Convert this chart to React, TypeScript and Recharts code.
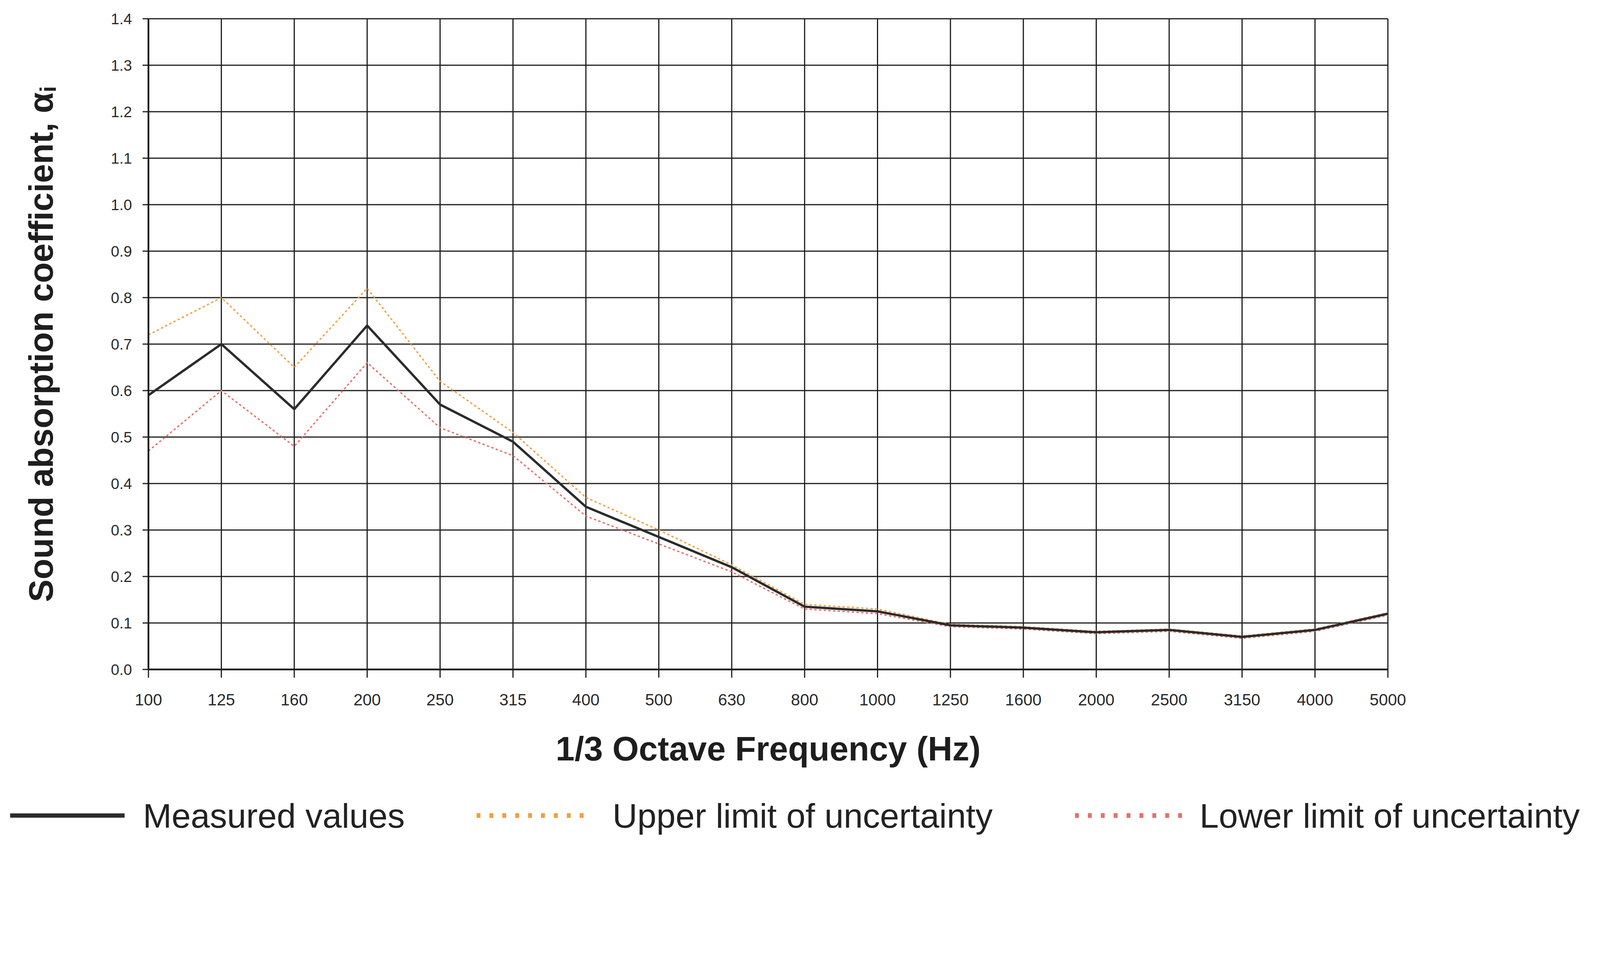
import { LineChart, Line, CartesianGrid, XAxis, YAxis, Legend } from "recharts";

const frequencies = [
  "100", "125", "160", "200", "250", "315", "400", "500", "630",
  "800", "1000", "1250", "1600", "2000", "2500", "3150", "4000", "5000",
];

const measured = [
  0.59, 0.7, 0.56, 0.74, 0.57, 0.49, 0.35, 0.285, 0.22,
  0.135, 0.125, 0.095, 0.09, 0.08, 0.085, 0.07, 0.085, 0.12,
];

const upperLimit = [
  0.72, 0.8, 0.65, 0.82, 0.62, 0.51, 0.37, 0.3, 0.225,
  0.14, 0.13, 0.097, 0.092, 0.082, 0.087, 0.072, 0.087, 0.122,
];

const lowerLimit = [
  0.47, 0.6, 0.48, 0.66, 0.52, 0.46, 0.33, 0.27, 0.21,
  0.13, 0.12, 0.092, 0.087, 0.077, 0.082, 0.067, 0.082, 0.117,
];

const yTicks = [0, 0.1, 0.2, 0.3, 0.4, 0.5, 0.6, 0.7, 0.8, 0.9, 1.0, 1.1, 1.2, 1.3, 1.4];

const data = frequencies.map((freq, i) => ({
  freq,
  measured: measured[i],
  upper: upperLimit[i],
  lower: lowerLimit[i],
}));

const FONT = "'Liberation Sans', Arial, Helvetica, sans-serif";
const W = 4080;
const H = 2160;

const renderXTitle = (props: any) => {
  const vb = props.viewBox || { x: 372, width: 3173 };
  return (
    <text
      x={vb.x + vb.width / 2}
      y={1908}
      textAnchor="middle"
      dominantBaseline="central"
      fontFamily={FONT}
      fontWeight="bold"
      fontSize={87}
      fill="#1e1e1e"
    >
      1/3 Octave Frequency (Hz)
    </text>
  );
};

const renderYTitle = () => {
  const x = 96;
  const y = 873;
  return (
    <text
      x={x}
      y={y}
      transform={`rotate(-90, ${x}, ${y})`}
      textAnchor="middle"
      dominantBaseline="central"
      fontFamily={FONT}
      fontWeight="bold"
      fontSize={87}
      fill="#1e1e1e"
    >
      Sound absorption coefficient, α
      <tspan fontSize={57} dy={19}>i</tspan>
    </text>
  );
};

// legend drawn by hand so it can spread over the full width like the original
const renderLegend = () => (
  <svg width={W} height={130} style={{ display: "block" }}>
    <line x1={18} x2={311} y1={65} y2={65} stroke="#2b2b2b" strokeWidth={11} />
    <text x={358} y={65} dominantBaseline="central" fontFamily={FONT} fontSize={88} fill="#222">
      Measured values
    </text>
    <line x1={1212} x2={1508} y1={65} y2={65} stroke="#f0a040" strokeWidth={12} strokeDasharray="10 23" />
    <text x={1560} y={65} dominantBaseline="central" fontFamily={FONT} fontSize={88} fill="#222">
      Upper limit of uncertainty
    </text>
    <line x1={2744} x2={3038} y1={65} y2={65} stroke="#e8706a" strokeWidth={12} strokeDasharray="10 23" />
    <text x={3063} y={65} dominantBaseline="central" fontFamily={FONT} fontSize={88} fill="#222">
      Lower limit of uncertainty
    </text>
  </svg>
);

export default function App() {
  return (
    <div style={{ width: W, height: H, background: "#ffffff" }}>
      <LineChart
        width={W}
        height={H}
        data={data}
        margin={{ top: 40, right: 535, bottom: 0, left: 0 }}
      >
        <CartesianGrid stroke="#1c1c1c" strokeWidth={3} />
        <XAxis
          dataKey="freq"
          interval={0}
          height={454}
          tickSize={21}
          tickMargin={41}
          axisLine={{ stroke: "#1c1c1c", strokeWidth: 4.5 }}
          tickLine={{ stroke: "#1c1c1c", strokeWidth: 3 }}
          tick={{ fontSize: 42, fontFamily: FONT, fill: "#2a2a2a" }}
          label={renderXTitle}
        />
        <YAxis
          domain={[0, 1.4]}
          ticks={yTicks}
          width={372}
          tickSize={15}
          tickMargin={27}
          tickFormatter={(v: number) => v.toFixed(1)}
          axisLine={{ stroke: "#1c1c1c", strokeWidth: 4.5 }}
          tickLine={{ stroke: "#1c1c1c", strokeWidth: 3 }}
          tick={{ fontSize: 39, fontFamily: FONT, fill: "#2a2a2a" }}
          label={renderYTitle}
        />
        <Legend
          layout="vertical"
          align="center"
          verticalAlign="middle"
          content={renderLegend}
          wrapperStyle={{ left: 0, top: 2015, width: W, height: 130 }}
        />
        <Line
          type="linear"
          dataKey="upper"
          name="Upper limit of uncertainty"
          stroke="#f0a040"
          strokeWidth={3.5}
          strokeDasharray="6 6"
          dot={false}
          isAnimationActive={false}
        />
        <Line
          type="linear"
          dataKey="lower"
          name="Lower limit of uncertainty"
          stroke="#e8706a"
          strokeWidth={3.5}
          strokeDasharray="6 6"
          dot={false}
          isAnimationActive={false}
        />
        <Line
          type="linear"
          dataKey="measured"
          name="Measured values"
          stroke="#2b2b2b"
          strokeWidth={6}
          dot={false}
          isAnimationActive={false}
        />
      </LineChart>
    </div>
  );
}
